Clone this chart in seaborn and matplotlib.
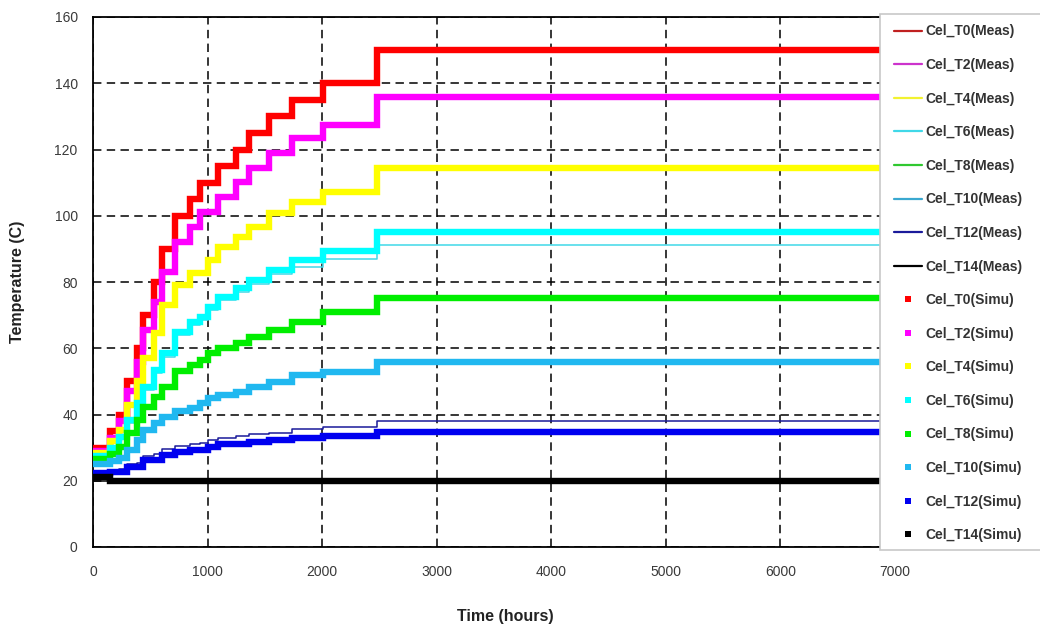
import matplotlib
matplotlib.use("Agg")
import matplotlib.pyplot as plt
import seaborn as sns
from matplotlib.lines import Line2D
from matplotlib.patches import Rectangle

# ---------------- data ----------------
step_times = [0, 150, 230, 300, 380, 440, 530, 600, 713, 843, 930, 1000,
              1090, 1250, 1365, 1540, 1740, 2010, 2480, 7000]

simu_T0 = [30, 35, 40, 50, 60, 70, 80, 90, 100, 105, 110, 110, 115, 120,
           125, 130, 135, 140, 150, 150]
simu_T2 = [29, 33, 38, 47, 56, 65.5, 74, 83, 92, 96.7, 101, 101, 105.7,
           110.3, 114.4, 119, 123.4, 127.4, 136, 136]
simu_T4 = [28.5, 32, 35.3, 43, 50, 57, 64.6, 73, 79, 82.7, 82.7, 86.6,
           90.7, 93.7, 96.7, 100.7, 104.2, 107.3, 114.5, 114.5]
simu_T6 = [27.5, 30, 33.3, 38.3, 43.4, 48.4, 53.4, 58.5, 65, 68, 69.5,
           72.5, 75.6, 78.2, 80.6, 83.6, 86.6, 89.5, 95, 95]
simu_T8 = [26.5, 28, 30.3, 34.4, 38.3, 42.4, 45.4, 48.4, 53, 55, 56.5,
           58.5, 60, 61.5, 63.5, 65.5, 68, 71, 75.2, 75.2]
simu_T10 = [25, 26, 26.8, 29.3, 32.3, 35.3, 37.3, 39.3, 41, 42, 43.4,
            44.9, 45.9, 46.9, 48.4, 49.9, 51.9, 52.9, 55.8, 55.8]
simu_T12 = [22.3, 22.7, 22.7, 24.2, 24.2, 26.3, 26.3, 27.8, 28.8, 29.3,
            29.3, 30.3, 31.1, 31.1, 31.8, 32.3, 32.8, 33.5, 34.8, 34.8]
simu_T14 = [21, 20, 20, 20, 20, 20, 20, 20, 20, 20, 20, 20, 20, 20, 20,
            20, 20, 20, 20, 20]

meas_T0 = [30, 35, 40, 50, 60, 70, 80, 90, 100, 105, 110, 110, 115, 120,
           125, 130, 135, 140, 150, 150]
meas_T2 = [29, 33, 38, 47, 56, 65.5, 74, 83, 92, 96.7, 101, 101, 105.7,
           110.3, 114.4, 119, 123.4, 127.4, 136, 136]
meas_T4 = [28.5, 32, 35.3, 43, 50, 57, 64.6, 73, 79, 82.7, 82.7, 86.6,
           90.7, 93.7, 96.7, 100.7, 104.2, 107.3, 114.5, 114.5]
meas_T6 = [27, 29.5, 32.5, 37.5, 42.5, 47.5, 52.5, 57.5, 64, 67, 68.5,
           71.5, 74.5, 77, 79.5, 82.5, 84.5, 87, 91.3, 91.3]
meas_T8 = [26.5, 28, 30.3, 34.4, 38.3, 42.4, 45.4, 48.4, 53, 55, 56.5,
           58.5, 60, 61.5, 63.5, 65.5, 68, 71, 75.2, 75.2]
meas_T10 = [25, 26, 26.8, 29.3, 32.3, 35.3, 37.3, 39.3, 41, 42, 43.4,
            44.9, 45.9, 46.9, 48.4, 49.9, 51.9, 52.9, 56.3, 56.3]
meas_T12 = [22.5, 23, 23.5, 25, 25.5, 27.5, 28, 29.5, 30.5, 31, 31.5,
            32.3, 33, 33.5, 34, 34.5, 35.6, 36.3, 38.1, 38.1]
meas_T14 = [20, 20, 20, 20, 20, 20, 20, 20, 20, 20, 20, 20, 20, 20, 20,
            20, 20, 20, 20, 20]

sensor_names = ["T0", "T2", "T4", "T6", "T8", "T10", "T12", "T14"]
meas_series = [meas_T0, meas_T2, meas_T4, meas_T6, meas_T8, meas_T10,
               meas_T12, meas_T14]
simu_series = [simu_T0, simu_T2, simu_T4, simu_T6, simu_T8, simu_T10,
               simu_T12, simu_T14]

x_ticks = [0, 1000, 2000, 3000, 4000, 5000, 6000, 7000]
y_ticks = [0, 20, 40, 60, 80, 100, 120, 140, 160]

# ---------------- styles ----------------
meas_colors = ["#C02020", "#CC33CC", "#F2F230", "#40D8E8", "#30C830",
               "#3AA8D0", "#1A1A9A", "#000000"]
simu_colors = ["#FF0000", "#FF00FF", "#FFFF00", "#00FFFF", "#00EE00",
               "#20B8F0", "#0000F0", "#000000"]

sns.set_theme(style="white")
plt.rcParams["font.family"] = ["Liberation Sans", "DejaVu Sans"]

fig = plt.figure(figsize=(10.4, 6.3), dpi=100)
ax = fig.add_axes([93 / 1040, 1 - 547 / 630, 802 / 1040, 530 / 630])

# measured (thin) underneath
for vals, col in zip(meas_series, meas_colors):
    sns.lineplot(x=step_times, y=vals, ax=ax, color=col, linewidth=1.1,
                 drawstyle="steps-post", estimator=None, sort=False,
                 legend=False, zorder=3)
# simulated (thick squares) on top
for vals, col in zip(simu_series, simu_colors):
    sns.lineplot(x=step_times, y=vals, ax=ax, color=col, linewidth=4.6,
                 drawstyle="steps-post", estimator=None, sort=False,
                 legend=False, zorder=4, solid_capstyle="butt",
                 solid_joinstyle="miter")

ax.set_xlim(0, 7000)
ax.set_ylim(0, 160)
ax.set_xticks(x_ticks)
ax.set_yticks(y_ticks)
ax.set_xticklabels([str(v) for v in x_ticks])
ax.set_yticklabels([str(v) for v in y_ticks])
ax.tick_params(axis="both", length=0, labelsize=10, labelcolor="#3a3a3a")
ax.tick_params(axis="y", pad=11)
ax.tick_params(axis="x", pad=13)
ax.set_xlabel("")
ax.set_ylabel("")
ax.set_axisbelow(True)
ax.grid(True, color="black", linestyle=(0, (5.5, 3.5)), linewidth=1.1)
for sp in ax.spines.values():
    sp.set_color("black")
    sp.set_linewidth(1.3)

fig.text(18 / 1040, 1 - 282 / 630, "Temperature (C)", rotation=90,
         ha="center", va="center", fontsize=11.5, fontweight="bold",
         color="#222222")
fig.text(505 / 1040, 1 - 617 / 630, "Time (hours)", ha="center",
         va="center", fontsize=11.5, fontweight="bold", color="#222222")

# legend frame (covers the right end of the plot like the original)
frame = Rectangle((880 / 1040, 1 - 550 / 630), 200 / 1040, 536 / 630,
                  transform=fig.transFigure, facecolor="white",
                  edgecolor="#C8C8C8", linewidth=1.2, zorder=1)
fig.add_artist(frame)

handles, labels = [], []
for name, col in zip(sensor_names, meas_colors):
    handles.append(Line2D([0], [0], color=col, linewidth=1.6))
    labels.append(f"Cel_{name}(Meas)")
for name, col in zip(sensor_names, simu_colors):
    handles.append(Line2D([0], [0], color=col, linestyle="none", marker="s",
                          markersize=4.5, markeredgewidth=0))
    labels.append(f"Cel_{name}(Simu)")

leg = fig.legend(handles, labels, loc="upper left",
                 bbox_to_anchor=(894 / 1040, 1 - 24.5 / 630),
                 bbox_transform=fig.transFigure, frameon=False,
                 borderpad=0, borderaxespad=0, handlelength=2.0,
                 handletextpad=0.25, labelspacing=1.41,
                 prop={"family": ["Liberation Sans", "DejaVu Sans"],
                       "weight": "bold", "size": 10})
leg.set_zorder(5)
for t in leg.get_texts():
    t.set_color("#333333")

fig.savefig("out.png", dpi=100)
